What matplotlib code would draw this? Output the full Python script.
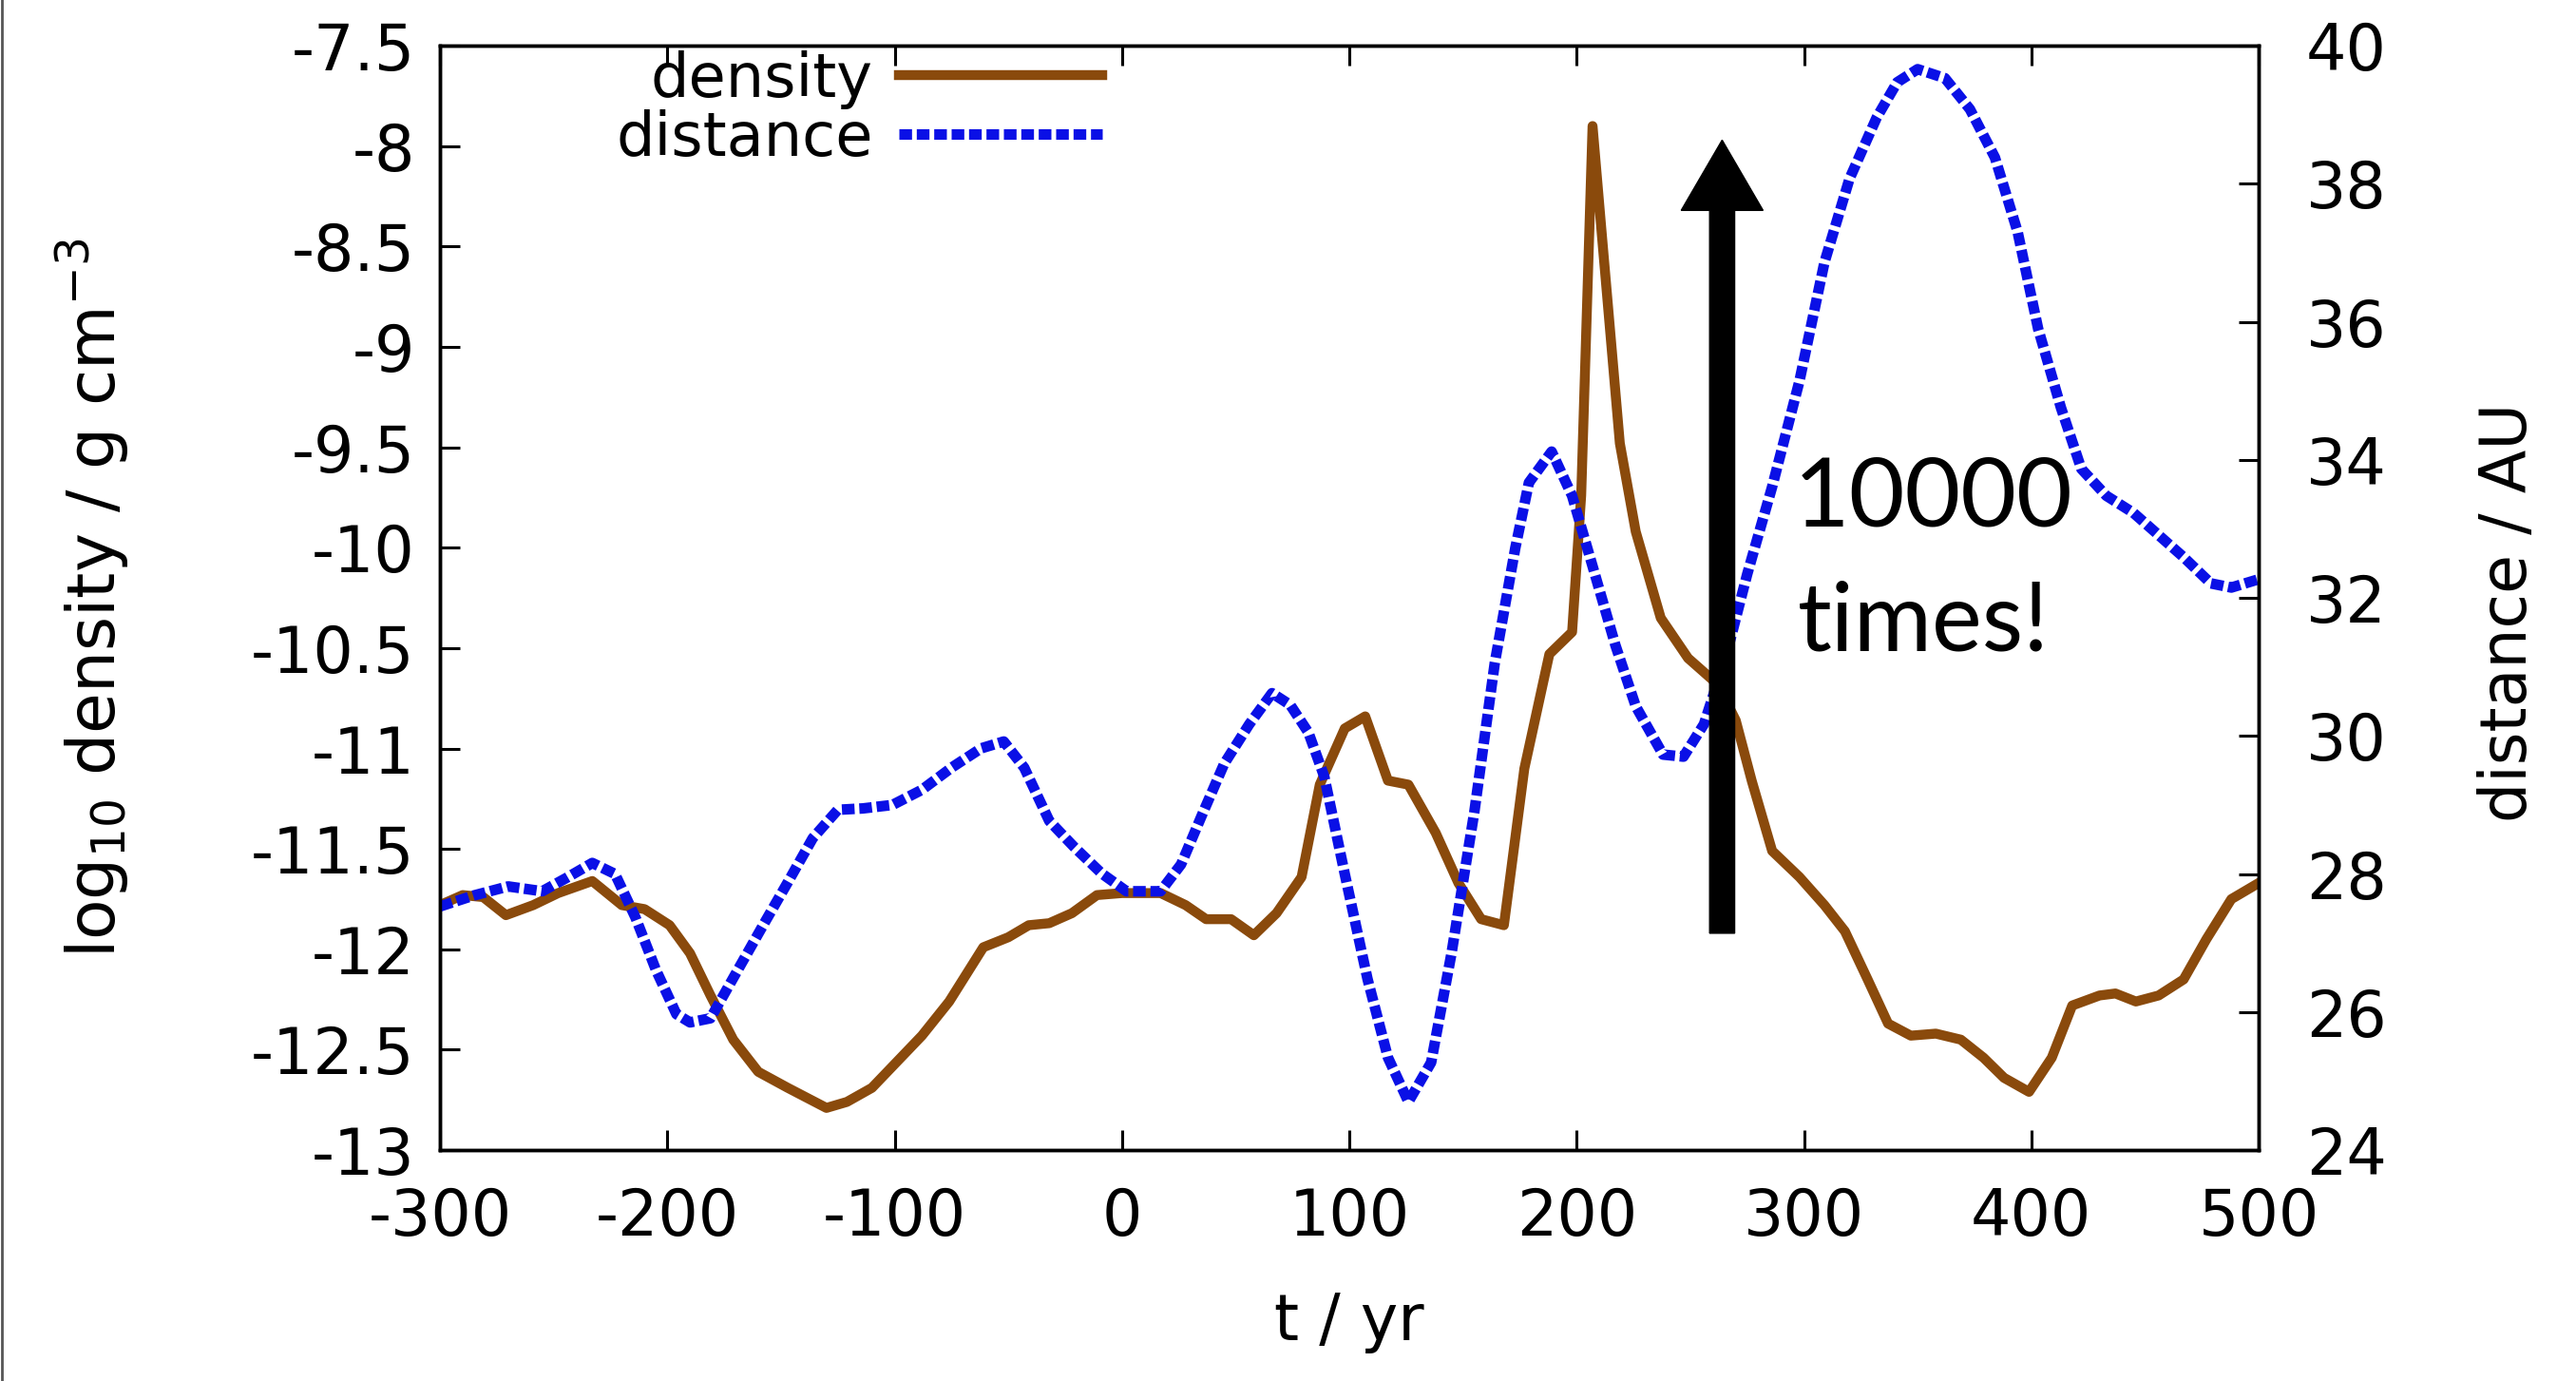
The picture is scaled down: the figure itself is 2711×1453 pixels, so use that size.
import matplotlib
matplotlib.use('Agg')
import matplotlib.pyplot as plt
from matplotlib.patches import FancyArrow
from matplotlib.lines import Line2D
from matplotlib.ticker import FormatStrFormatter

plt.rcParams['font.family'] = ['DejaVu Sans']
plt.rcParams['mathtext.fontset'] = 'dejavusans'
plt.rcParams['axes.unicode_minus'] = False

# density curve (log10 g cm^-3)
dens_t = [-300, -290, -281, -271, -259, -248, -233, -220, -210, -199,
          -190, -181, -171, -160, -147, -130, -121, -110, -99, -88,
          -76, -61, -50, -41, -32, -22, -11, 0, 17, 28,
          37, 48, 58, 68, 79, 87, 98, 107, 117, 126,
          138, 148, 158, 168, 177, 188, 198, 202, 207, 211,
          219, 226, 237, 249, 262, 270, 277, 286, 298, 309,
          318, 328, 337, 347, 358, 369, 379, 388, 399, 409,
          418, 430, 437, 446, 456, 467, 477, 488, 500]
dens = [-11.78, -11.73, -11.74, -11.83, -11.78, -11.72, -11.66, -11.78, -11.80, -11.88,
        -12.02, -12.23, -12.45, -12.61, -12.69, -12.79, -12.76, -12.69, -12.56, -12.43,
        -12.26, -11.99, -11.94, -11.88, -11.87, -11.82, -11.73, -11.72, -11.72, -11.78,
        -11.85, -11.85, -11.93, -11.82, -11.64, -11.18, -10.90, -10.84, -11.16, -11.18,
        -11.42, -11.67, -11.85, -11.88, -11.10, -10.53, -10.42, -9.74, -7.90, -8.43,
        -9.48, -9.92, -10.35, -10.55, -10.68, -10.86, -11.16, -11.51, -11.64, -11.78,
        -11.91, -12.15, -12.37, -12.43, -12.42, -12.45, -12.54, -12.64, -12.71, -12.54,
        -12.28, -12.23, -12.22, -12.26, -12.23, -12.15, -11.95, -11.75, -11.67]

# distance curve (AU)
dist_t = [-300, -285, -270, -255, -244, -233, -223, -214, -205, -196,
          -190, -181, -169, -158, -147, -136, -125, -114, -101, -88,
          -75, -62, -52, -43, -32, -21, -9, 2, 17, 26,
          35, 45, 56, 66, 74, 82, 89, 98, 108, 117,
          126, 136, 145, 155, 164, 173, 179, 189, 198, 207,
          217, 226, 238, 247, 256, 266, 275, 286, 298, 309,
          320, 332, 341, 350, 362, 373, 384, 394, 403, 413,
          422, 433, 445, 456, 467, 479, 488, 500]
dist = [27.53, 27.69, 27.82, 27.75, 27.95, 28.16, 28.0, 27.37, 26.61, 25.97,
        25.85, 25.91, 26.61, 27.25, 27.88, 28.52, 28.93, 28.95, 29.0, 29.22,
        29.54, 29.82, 29.92, 29.54, 28.77, 28.39, 28.01, 27.75, 27.75, 28.14,
        28.84, 29.60, 30.17, 30.62, 30.45, 30.05, 29.41, 28.0, 26.48, 25.34,
        24.70, 25.27, 26.86, 28.90, 31.06, 32.72, 33.67, 34.12, 33.48, 32.46,
        31.32, 30.43, 29.73, 29.70, 30.17, 31.19, 32.34, 33.61, 35.14, 36.86,
        38.07, 38.96, 39.47, 39.66, 39.53, 39.08, 38.38, 37.30, 35.90, 34.76,
        33.87, 33.48, 33.23, 32.91, 32.59, 32.21, 32.15, 32.27]

x_ticks = [-300, -200, -100, 0, 100, 200, 300, 400, 500]
dens_ticks = [-13, -12.5, -12, -11.5, -11, -10.5, -10, -9.5, -9, -8.5, -8, -7.5]
dist_ticks = [24, 26, 28, 30, 32, 34, 36, 38, 40]

brown = '#8a4a0c'
blue = '#0a10e6'
fs = 48

fig = plt.figure(figsize=(27.11, 14.53), dpi=100)
ax = fig.add_axes([0.1708, 0.1672, 0.706, 0.7997])
ax2 = ax.twinx()

l1, = ax.plot(dens_t, dens, color=brown, lw=7.5, label='density')
l2, = ax2.plot(dist_t, dist, color=blue, lw=8, label='distance',
               dashes=(1.2, 0.45), dash_capstyle='butt')

ax.set_xlim(-300, 500)
ax.set_ylim(-13, -7.5)
ax2.set_ylim(24, 40)
ax.set_xticks(x_ticks)
ax.set_yticks(dens_ticks)
ax2.set_yticks(dist_ticks)
ax.yaxis.set_major_formatter(FormatStrFormatter('%g'))
ax2.yaxis.set_major_formatter(FormatStrFormatter('%g'))

ax.tick_params(axis='x', which='both', direction='in', top=True, length=15, width=2.2,
               labelsize=fs, pad=27)
ax.tick_params(axis='y', direction='in', length=15, width=2.2, labelsize=fs, pad=19)
ax2.tick_params(axis='y', direction='in', length=15, width=2.2, labelsize=fs, pad=36)
for a in (ax, ax2):
    for s in a.spines.values():
        s.set_linewidth(2.5)

ax.set_xlabel('t / yr', fontsize=48)
ax.xaxis.set_label_coords(0.5, -0.127)
ax.set_ylabel('log$_{10}$ density / g cm$^{-3}$', fontsize=50)
ax.yaxis.set_label_coords(-0.170, 0.5)
ax2.set_ylabel('distance / AU', fontsize=48)
ax2.yaxis.set_label_coords(1.12, 0.487)

ax.legend([l1, l2], ['density', 'distance'], loc='upper right',
          bbox_to_anchor=(0.364, 0.996), frameon=False, markerfirst=False,
          handlelength=3.35, handletextpad=0.42, labelspacing=0.0,
          borderpad=0, borderaxespad=0, fontsize=46)

# big arrow and annotation, drawn above both curves
arrow = FancyArrow(264, -11.92, 0, 3.95, width=11, head_width=36, head_length=0.35,
                   length_includes_head=True, color='black', transform=ax.transData,
                   zorder=10)
ax2.add_patch(arrow)
ax2.text(357, -9.89, '10000', transform=ax.transData, fontsize=73, family='Lato',
         ha='center', va='baseline', zorder=11)
ax2.text(352.5, -10.51, 'times!', transform=ax.transData, fontsize=72, family='Lato',
         ha='center', va='baseline', zorder=11)

fig.add_artist(Line2D([0.0008, 0.0008], [0, 1], color='#555555', lw=2,
                      transform=fig.transFigure))

fig.savefig('out.png', dpi=100)
